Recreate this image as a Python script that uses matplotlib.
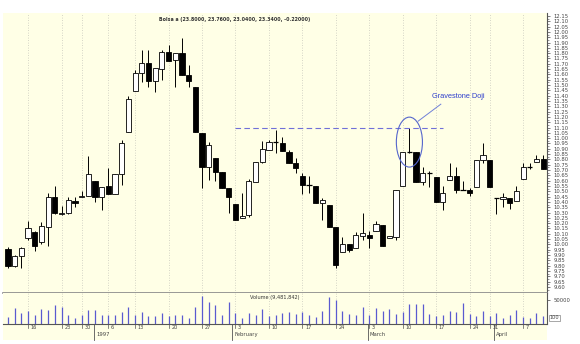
import matplotlib
matplotlib.use('Agg')
import matplotlib.pyplot as plt
from matplotlib.patches import Rectangle, Ellipse
import matplotlib.transforms as mtrans
import numpy as np

# ---------------- data ----------------
opens = [9.96, 9.80, 9.89, 10.06, 10.12, 10.02, 10.16, 10.45, 10.29, 10.30,
         10.41, 10.45, 10.46, 10.60, 10.45, 10.55, 10.47, 10.66, 11.06, 11.44,
         11.61, 11.71, 11.54, 11.65, 11.81, 11.74, 11.80, 11.59, 11.48, 11.05,
         10.73, 10.81, 10.68, 10.53, 10.38, 10.25, 10.28, 10.59, 10.78, 10.89,
         10.96, 10.95, 10.87, 10.77, 10.64, 10.56, 10.55, 10.39, 10.37, 10.16,
         9.93, 10.00, 9.97, 10.08, 10.09, 10.13, 10.18, 10.06, 10.07, 10.55,
         10.87, 10.87, 10.59, 10.67, 10.63, 10.40, 10.61, 10.64, 10.51, 10.51,
         10.54, 10.79, 10.79, 10.44, 10.43, 10.44, 10.41, 10.62, 10.73, 10.78,
         10.80]
highs = [9.98, 9.90, 9.98, 10.22, 10.13, 10.21, 10.48, 10.55, 10.36, 10.45,
         10.45, 10.50, 10.83, 10.60, 10.54, 10.72, 10.66, 10.98, 11.40, 11.64,
         11.83, 11.83, 11.66, 11.83, 11.88, 11.80, 11.94, 11.69, 11.48, 11.05,
         10.96, 10.81, 10.68, 10.53, 10.38, 10.48, 10.62, 10.78, 10.97, 10.98,
         11.08, 11.01, 10.89, 10.81, 10.67, 10.64, 10.55, 10.44, 10.37, 10.16,
         10.07, 10.00, 10.12, 10.30, 10.13, 10.22, 10.18, 10.08, 10.51, 10.87,
         11.10, 10.87, 10.73, 10.69, 10.63, 10.55, 10.77, 10.73, 10.60, 10.53,
         10.79, 10.95, 10.79, 10.44, 10.48, 10.44, 10.55, 10.77, 10.77, 10.84,
         10.84]
lows = [9.78, 9.79, 9.78, 10.04, 9.94, 10.00, 9.99, 10.29, 10.28, 10.29,
        10.35, 10.45, 10.46, 10.40, 10.32, 10.47, 10.47, 10.56, 11.06, 11.44,
        11.53, 11.48, 11.43, 11.55, 11.73, 11.48, 11.59, 11.48, 11.06, 10.53,
        10.61, 10.60, 10.53, 10.30, 10.23, 10.25, 10.26, 10.59, 10.77, 10.89,
        10.86, 10.88, 10.77, 10.67, 10.47, 10.48, 10.39, 10.23, 10.16, 9.78,
        9.93, 9.93, 9.97, 10.04, 9.97, 10.13, 9.99, 10.06, 10.04, 10.55,
        10.86, 10.59, 10.56, 10.54, 10.40, 10.32, 10.61, 10.48, 10.51, 10.46,
        10.54, 10.77, 10.54, 10.29, 10.35, 10.33, 10.41, 10.62, 10.71, 10.78,
        10.71]
closes = [9.80, 9.89, 9.97, 10.15, 9.99, 10.17, 10.45, 10.30, 10.30, 10.42,
          10.39, 10.46, 10.66, 10.45, 10.54, 10.47, 10.66, 10.95, 11.37, 11.61,
          11.71, 11.54, 11.66, 11.81, 11.73, 11.80, 11.59, 11.54, 11.06, 10.73,
          10.94, 10.68, 10.53, 10.45, 10.23, 10.27, 10.60, 10.78, 10.90, 10.96,
          10.96, 10.88, 10.77, 10.72, 10.56, 10.56, 10.39, 10.42, 10.16, 9.81,
          10.00, 9.95, 10.09, 10.11, 10.06, 10.19, 9.99, 10.08, 10.51, 10.87,
          10.87, 10.59, 10.67, 10.67, 10.40, 10.48, 10.64, 10.51, 10.51, 10.48,
          10.79, 10.84, 10.54, 10.44, 10.45, 10.39, 10.50, 10.73, 10.73, 10.80,
          10.71]
volumes = [13700, 32600, 21700, 26100, 19600, 30400, 28300, 39100, 34800, 19600,
           13000, 19600, 28300, 28300, 19600, 19600, 19600, 23900, 34800, 19600,
           24600, 16700, 16700, 22400, 16700, 19600, 19600, 13000, 34800, 58700,
           45700, 39100, 19600, 45700, 21700, 13000, 21700, 19600, 30400, 16700,
           19600, 21700, 23900, 21100, 23900, 18800, 15200, 27500, 55100, 49300,
           27500, 20300, 18800, 34800, 18800, 33300, 27500, 31200, 20300, 23900,
           40600, 40600, 42000, 20300, 16700, 18800, 27500, 24600, 44200, 20300,
           16700, 27500, 16700, 22500, 11600, 18800, 28300, 15200, 11600, 22500,
           16700]

week_idx = [3, 8, 11, 15, 19, 24, 29, 34, 39, 44, 49, 54, 59, 64, 69, 72, 77]
week_labels = ['16', '23', '30', '6', '13', '20', '27', '3', '10', '17', '24',
               '3', '10', '17', '24', '31', '7']
month_idx = [13.2, 33.8, 54.1, 72.9]
month_labels = ['1997', 'February', 'March', 'April']

title_text = 'Bolsa a (23.8000, 23.7600, 23.0400, 23.3400, -0.22000)'
volume_text = 'Volume (9,481,842)'
annot_text = 'Gravestone Doji'
doji_index = 60
resistance_level = 11.095
price_ticks = np.round(np.arange(9.60, 12.151, 0.05), 2)

# ---------------- figure ----------------
W, H = 580, 344
fig = plt.figure(figsize=(W / 100, H / 100), dpi=100)
fig.patch.set_facecolor('white')
BG = '#FFFFE6'


def fr(x0, y0, x1, y1):
    return [x0 / W, 1 - y1 / H, (x1 - x0) / W, (y1 - y0) / H]


# date strip background
fig.patches.append(Rectangle((3 / W, 1 - 340 / H), 544 / W, 16 / H,
                             transform=fig.transFigure, facecolor=BG,
                             edgecolor='none', zorder=-5))

ax = fig.add_axes(fr(3, 13, 547, 293))
axv = fig.add_axes(fr(3, 293, 547, 324), sharex=ax)
for a in (ax, axv):
    a.set_facecolor(BG)
    for s in ('left', 'top'):
        a.spines[s].set_visible(False)
    a.spines['right'].set_color('#555555')
    a.spines['right'].set_linewidth(0.8)

ax.spines['bottom'].set_color('#888888')
ax.spines['bottom'].set_linewidth(1.2)
axv.spines['bottom'].set_color('#555555')
axv.spines['bottom'].set_linewidth(0.8)

n = len(opens)
x = np.arange(n)
ax.set_xlim(-0.75, 80.57)
ax.set_ylim(9.543, 12.178)

# grid
for gi in week_idx:
    ax.axvline(gi, color='#C8C8BC', lw=0.6, ls=(0, (1, 2)), zorder=0)
    axv.axvline(gi, color='#C8C8BC', lw=0.6, ls=(0, (1, 2)), zorder=0)

# candles
bw = 0.78
ax.vlines(x, lows, highs, color='black', lw=0.7, zorder=2)
for i in range(n):
    o, c = opens[i], closes[i]
    if abs(c - o) < 0.005:
        ax.hlines(o, i - bw / 2, i + bw / 2, color='black', lw=0.9, zorder=3)
        continue
    fc = 'white' if c > o else 'black'
    ax.add_patch(Rectangle((i - bw / 2, min(o, c)), bw, abs(c - o),
                           facecolor=fc, edgecolor='black', lw=0.6, zorder=3))

# annotation
ax.hlines(resistance_level, 33.9, 65.0, color='#7070D8', lw=0.8,
          linestyles=(0, (5, 3)), zorder=4)
ax.add_patch(Ellipse((doji_index, 10.963), 3.9, 0.47, fill=False,
                     edgecolor='#5566CC', lw=0.8, zorder=5))
ax.plot([61.3, 64.7], [11.16, 11.32], color='#7080D8', lw=0.7, zorder=5)
ax.text(63.4, 11.39, annot_text, color='#2E3ECC', fontsize=5.3,
        family='Liberation Sans', va='center', ha='left')

ax.text(0.425, 0.985, title_text, transform=ax.transAxes, fontsize=3.4,
        color='#333333', ha='center', va='top', fontweight='bold')

# price axis
ax.yaxis.tick_right()
ax.set_yticks(price_ticks)
ax.set_yticklabels([f'{t:.2f}' for t in price_ticks])
ax.set_yticks(np.round(np.arange(9.575, 12.16, 0.05), 3), minor=True)
ax.tick_params(axis='y', which='major', labelsize=3.8, length=2.5, width=0.5,
               colors='#444444', pad=2)
ax.tick_params(axis='y', which='minor', length=1.5, width=0.4, colors='#444444')
ax.tick_params(axis='x', which='both', bottom=False, labelbottom=False)

# volume
axv.vlines(x, 0, volumes, color='#5A5AD0', lw=0.9)
axv.set_ylim(0, 64000)
axv.yaxis.tick_right()
axv.set_yticks([50000])
axv.set_yticklabels(['50000'])
axv.tick_params(axis='y', labelsize=3.8, length=2.5, width=0.5,
                colors='#444444', pad=2)
axv.text(1.005, 0.2, '100', transform=axv.transAxes, fontsize=3.6,
         color='#444444', va='center', ha='left',
         bbox=dict(boxstyle='square,pad=0.15', fc='white', ec='#666666', lw=0.4))
axv.text(0.5, 0.92, volume_text, transform=axv.transAxes, fontsize=3.6,
         color='#333333', ha='center', va='top')
axv.tick_params(axis='x', which='both', bottom=False, labelbottom=False)

# date labels
tr = mtrans.blended_transform_factory(axv.transData, axv.transAxes)
for gi, lab in zip(week_idx, week_labels):
    axv.plot([gi, gi], [0, -0.14], transform=tr, color='#555555', lw=0.5,
             clip_on=False)
    axv.text(gi + 0.4, -0.03, lab, transform=tr, fontsize=3.6, color='#444444',
             ha='left', va='top', clip_on=False)
for mi, lab in zip(month_idx, month_labels):
    axv.plot([mi - 0.3, mi - 0.3], [0, -0.5], transform=tr, color='#555555',
             lw=0.6, clip_on=False)
    axv.text(mi, -0.26, lab, transform=tr, fontsize=3.8, color='#444444',
             ha='left', va='top', clip_on=False)

fig.savefig('out.png', dpi=100, facecolor='white')
